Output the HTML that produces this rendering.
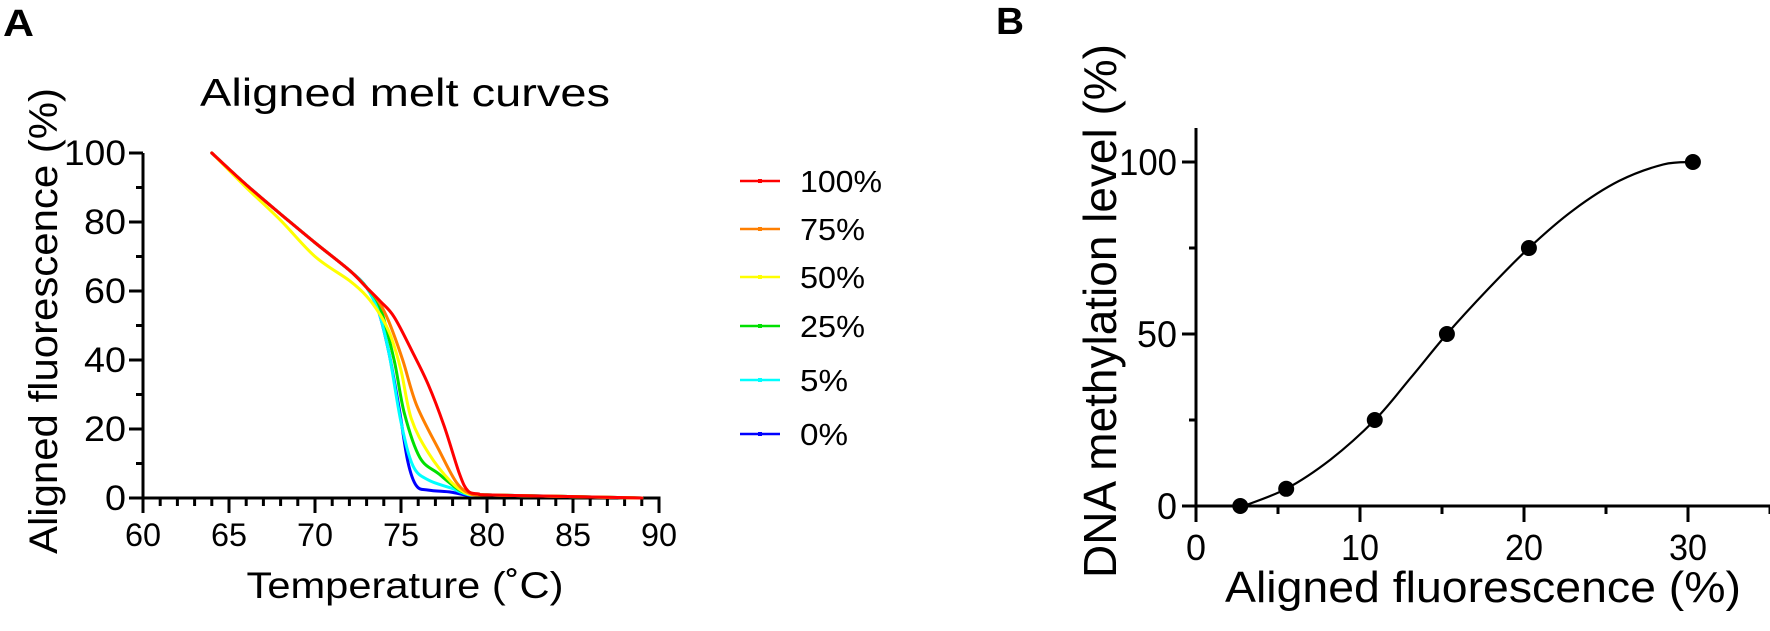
<!DOCTYPE html>
<html><head><meta charset="utf-8"><style>
html,body{margin:0;padding:0;background:#fff;}
svg{display:block;font-family:"Liberation Sans",Arial,sans-serif;}
</style></head><body>
<svg id="s" width="1770" height="631" viewBox="0 0 1770 631" xmlns="http://www.w3.org/2000/svg">
<rect width="1770" height="631" fill="#fff"/>
<text x="3" y="36" font-size="38" font-weight="bold" textLength="31" lengthAdjust="spacingAndGlyphs">A</text>
<text x="200" y="106" font-size="39" textLength="410" lengthAdjust="spacingAndGlyphs">Aligned melt curves</text>
<text transform="translate(57,321) rotate(-90)" text-anchor="middle" font-size="40" textLength="466" lengthAdjust="spacingAndGlyphs">Aligned fluorescence (%)</text>
<text x="405" y="598" text-anchor="middle" font-size="37" textLength="317" lengthAdjust="spacingAndGlyphs">Temperature (˚C)</text>
<g id="axA" stroke="#000" stroke-width="3" fill="none"></g>
<g id="lblA" font-size="35"></g>
<g id="curves" fill="none" stroke-width="3" stroke-linejoin="round" stroke-linecap="round"></g>
<g id="legend"></g>
<text x="996" y="34" font-size="38" font-weight="bold" textLength="28" lengthAdjust="spacingAndGlyphs">B</text>
<text transform="translate(1116,311) rotate(-90)" text-anchor="middle" font-size="46" textLength="534" lengthAdjust="spacingAndGlyphs">DNA methylation level (%)</text>
<text x="1483" y="602" text-anchor="middle" font-size="44" textLength="516" lengthAdjust="spacingAndGlyphs">Aligned fluorescence (%)</text>
<g id="axB" stroke="#000" stroke-width="3" fill="none"></g>
<g id="lblB" font-size="37"></g>
<path id="fit" fill="none" stroke="#000" stroke-width="2.2"/>
<g id="pts" fill="#000"></g>
</svg>
<script>
(function(){
var NS="http://www.w3.org/2000/svg";
function el(p,t,a,txt){var e=document.createElementNS(NS,t);for(var k in a)e.setAttribute(k,a[k]);if(txt!==undefined)e.textContent=txt;document.getElementById(p).appendChild(e);return e;}
function cr(pts){var d="M"+pts[0][0].toFixed(1)+","+pts[0][1].toFixed(1);
for(var i=0;i<pts.length-1;i++){var p0=pts[i-1]||pts[i],p1=pts[i],p2=pts[i+1],p3=pts[i+2]||p2;
var c1=[p1[0]+(p2[0]-p0[0])/6,p1[1]+(p2[1]-p0[1])/6],c2=[p2[0]-(p3[0]-p1[0])/6,p2[1]-(p3[1]-p1[1])/6];
d+=" C"+c1[0].toFixed(1)+","+c1[1].toFixed(1)+" "+c2[0].toFixed(1)+","+c2[1].toFixed(1)+" "+p2[0].toFixed(1)+","+p2[1].toFixed(1);}return d;}
var ax=143,y0=498,ky=3.45,kx=17.2;
function X(t){return ax+(t-60)*kx;} function Y(f){return y0-f*ky;}
el("axA","line",{x1:ax,y1:Y(100),x2:ax,y2:y0+1.5});
el("axA","line",{x1:ax-1.5,y1:y0,x2:X(90)+1.5,y2:y0});
for(var f=0;f<=100;f+=10){var L=f%20==0?14:7;el("axA","line",{x1:ax-L,y1:Y(f),x2:ax,y2:Y(f)});
 if(f%20==0)el("lblA","text",{x:126,y:Y(f)+12,"text-anchor":"end",textLength:(f==100?62:(f==0?21:42)),lengthAdjust:"spacingAndGlyphs"},String(f));}
for(var t=60;t<=90;t++){var L=t%5==0?15:8;el("axA","line",{x1:X(t),y1:y0,x2:X(t),y2:y0+L});
 if(t%5==0)el("lblA","text",{x:X(t),y:546,"text-anchor":"middle","font-size":32,textLength:36,lengthAdjust:"spacingAndGlyphs"},String(t));}
var topC=[[64,100],[66,90.8],[68,82.3],[70,74],[72,66],[73,61]];
var topYl=[[64,100],[66,90],[68,80.5],[70,70],[72,63],[73,58.5]];
var tail=[[80,0.9],[84,0.5],[89,0]];
var series=[
 ["#0000ff",topC.concat([[73.7,54],[74.3,42],[74.9,25.7],[75.4,10.5],[75.9,3.5],[76.6,2.3],[77.9,1.7],[78.9,0.8]]).concat(tail)],
 ["#00ffff",topC.concat([[73.7,54],[74.3,42],[75,22],[75.7,9.3],[76.6,5.2],[77.9,2.9],[78.9,1]]).concat(tail)],
 ["#00e000",topC.concat([[73.8,55],[74.6,40],[75.2,24.5],[76.1,11.7],[77.2,7],[78.4,2.3],[79.2,1]]).concat(tail)],
 ["#ffff00",topYl.concat([[73.8,53],[74.4,47],[75,37],[75.6,23],[76.6,13],[77.9,4.7],[78.9,1.2]]).concat(tail)],
 ["#ff7f00",topC.concat([[73.7,57],[74.3,51],[75.1,40],[75.9,27],[77.2,14],[78.2,4.7],[79,1.3]]).concat(tail)],
 ["#ff0000",topC.concat([[73.8,57],[74.6,52.5],[75.7,42],[76.6,32.7],[77.5,21],[78.4,7],[78.9,2],[79.5,1.2]]).concat(tail)]
];
series.forEach(function(s){el("curves","path",{d:cr(s[1].map(function(p){return[X(p[0]),Y(p[1])];})),stroke:s[0]});});
var leg=[["#ff0000","100%",181,82],["#ff7f00","75%",229,65],["#ffff00","50%",277,65],["#00e000","25%",326,65],["#00ffff","5%",380,48],["#0000ff","0%",434,48]];
leg.forEach(function(l){el("legend","line",{x1:740,y1:l[2],x2:780,y2:l[2],stroke:l[0],"stroke-width":2.5});
 el("legend","rect",{x:758,y:l[2]-2,width:4,height:4,fill:l[0]});
 el("legend","text",{x:800,y:l[2]+11,"font-size":31,textLength:l[3],lengthAdjust:"spacingAndGlyphs"},l[1]);});
var bx=1196,by=506,bkx=16.4,bky=3.44;
function BX(v){return bx+v*bkx;} function BY(v){return by-v*bky;}
el("axB","line",{x1:bx,y1:128,x2:bx,y2:by+16});
el("axB","line",{x1:bx-14,y1:by,x2:1770,y2:by});
for(var v=0;v<=100;v+=25){var L=v%50==0?14:7;el("axB","line",{x1:bx-L,y1:BY(v),x2:bx,y2:BY(v)});
 if(v%50==0)el("lblB","text",{x:1177,y:BY(v)+13,"text-anchor":"end",textLength:(v==100?58:(v==50?40:20)),lengthAdjust:"spacingAndGlyphs"},String(v));}
for(var v=5;v<=35;v+=5){var L=v%10==0?16:8;el("axB","line",{x1:BX(v),y1:by,x2:BX(v),y2:by+L});}
for(var v=0;v<=30;v+=10){el("lblB","text",{x:BX(v),y:560,"text-anchor":"middle","font-size":36,textLength:(v==0?20:38),lengthAdjust:"spacingAndGlyphs"},String(v));}
var P=[[2.7,0],[5.5,5],[10.9,25],[15.3,50],[20.3,75],[30.3,100]];
var fp=[[2.9,0],[5.5,5],[8.2,13.5],[10.9,25],[13.1,37.3],[15.3,50],[17.8,63],[20.3,75],[23,86],[25.8,94.5],[28.5,99.3],[30.3,100]];
document.getElementById("fit").setAttribute("d",cr(fp.map(function(p){return[BX(p[0]),BY(p[1])];})));
P.forEach(function(p){el("pts","circle",{cx:BX(p[0]),cy:BY(p[1]),r:8});});
})();
</script>
</body></html>
